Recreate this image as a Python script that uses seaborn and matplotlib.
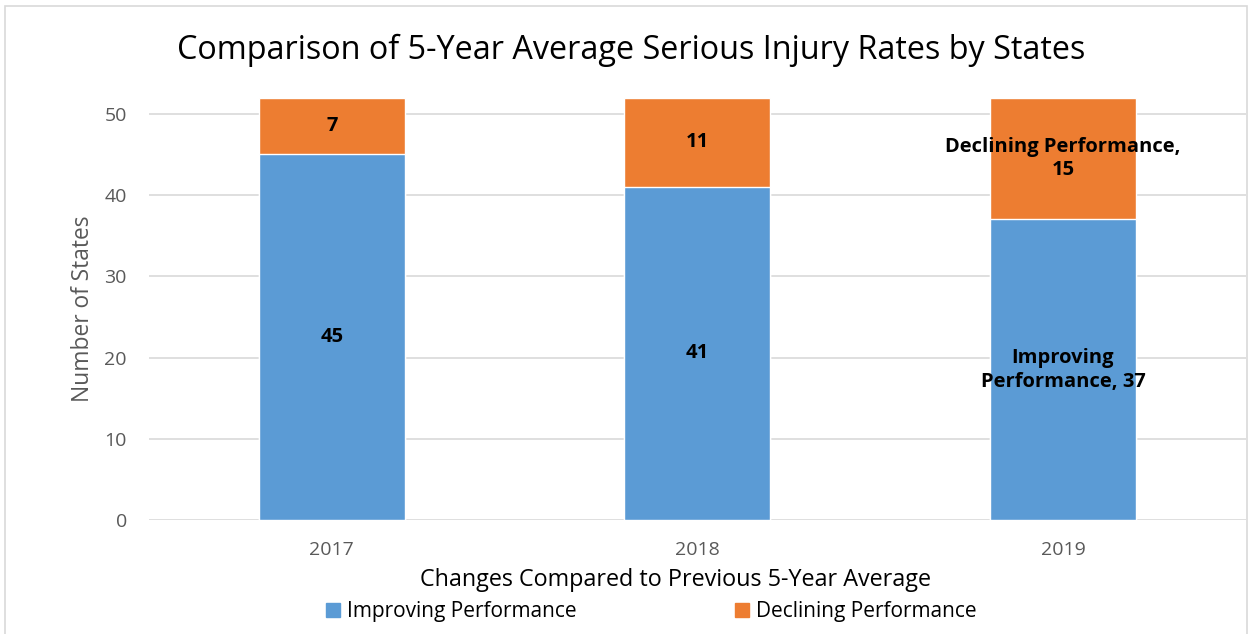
import pandas as pd
import matplotlib.pyplot as plt
import seaborn as sns
from matplotlib.patches import Rectangle

# Chart data
years = ["2017", "2018", "2019"]
improving = [45, 41, 37]
declining = [7, 11, 15]

BLUE = "#5B9BD5"
ORANGE = "#ED7D31"
GREY_TXT = "#595959"

df = pd.DataFrame({"Year": years, "Improving": improving, "Declining": declining})
df["Total"] = df["Improving"] + df["Declining"]

sns.set_style("white")
plt.rcParams["font.family"] = ["Open Sans", "DejaVu Sans"]
plt.rcParams["text.color"] = "black"

fig = plt.figure(figsize=(12.52, 6.34), dpi=100)
ax = fig.add_axes([0.119, 0.1798, 0.876, 0.6662])

# stacked bars: total (orange) underneath, improving (blue) on top
sns.barplot(data=df, x="Year", y="Total", color=ORANGE, width=0.4,
            saturation=1, ax=ax, zorder=2)
sns.barplot(data=df, x="Year", y="Improving", color=BLUE, width=0.4,
            saturation=1, ax=ax, zorder=3)

ax.set_ylim(0, 52)
ax.set_yticks([0, 10, 20, 30, 40, 50])
ax.yaxis.grid(True, color="#D9D9D9", linewidth=1.2, zorder=0)
ax.set_axisbelow(True)
for s in ax.spines.values():
    s.set_visible(False)
ax.tick_params(axis="both", length=0, labelsize=14, colors=GREY_TXT)
ax.tick_params(axis="x", pad=15)
ax.tick_params(axis="y", pad=16)

ax.set_ylabel("Number of States", fontsize=16.4, color=GREY_TXT, labelpad=7)
ax.set_xlabel("Changes Compared to Previous 5-Year Average", fontsize=16.8,
              color="black")
ax.xaxis.set_label_coords(0.48, -0.113)

# data labels
for i, (imp, dec) in enumerate(zip(improving, declining)):
    if i == len(years) - 1:
        t_imp = f"Improving\nPerformance, {imp}"
        t_dec = f"Declining Performance,\n{dec}"
    else:
        t_imp, t_dec = str(imp), str(dec)
    ax.text(i, imp / 2, t_imp, ha="center", va="center", fontsize=14.5,
            fontweight="bold", color="black", zorder=5, linespacing=1.25)
    ax.text(i, imp + dec / 2, t_dec, ha="center", va="center", fontsize=14.5,
            fontweight="bold", color="black", zorder=5, linespacing=1.25)

fig.suptitle("Comparison of 5-Year Average Serious Injury Rates by States",
             x=0.504, y=0.946, fontsize=23.3, color="black")

# legend
handles = [Rectangle((0, 0), 1, 1, color=BLUE), Rectangle((0, 0), 1, 1, color=ORANGE)]
fig.legend(handles, ["Improving Performance", "Declining Performance"],
           loc="center", bbox_to_anchor=(0.52, 0.035), ncol=2, frameon=False,
           fontsize=15, handlelength=0.7, handleheight=0.7, handletextpad=0.3,
           columnspacing=7.6)

# outer chart border
fig.patches.append(Rectangle((0.004, -0.01), 0.992, 1.0, transform=fig.transFigure,
                             fill=False, edgecolor="#D9D9D9", linewidth=1.2))

fig.savefig("out.png", dpi=100)
